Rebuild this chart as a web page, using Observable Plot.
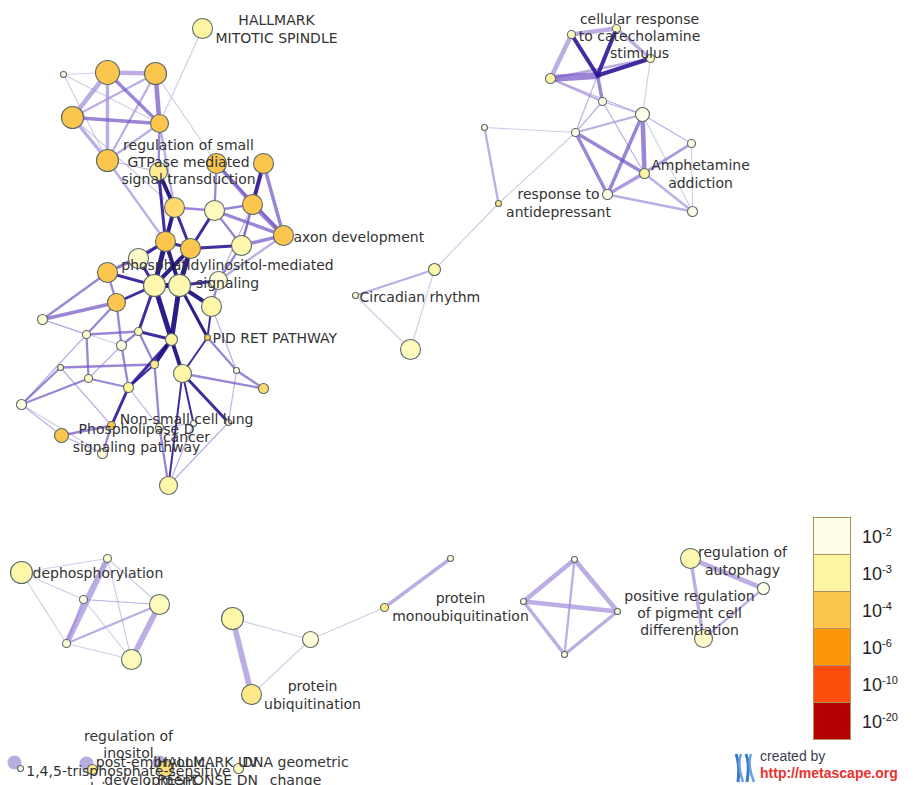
<!DOCTYPE html>
<html><head><meta charset="utf-8">
<script src="https://cdn.jsdelivr.net/npm/d3@7"></script>
<script src="https://cdn.jsdelivr.net/npm/@observablehq/plot@0.6"></script>
<style>
body{margin:0;background:#fff;}
#wrap{position:relative;width:917px;height:785px;overflow:hidden;font-family:"DejaVu Sans",sans-serif;}
#legend{position:absolute;left:813px;top:517px;}
.band{width:38px;border:1px solid #b09060;border-top:none;box-sizing:border-box;}
.band:first-child{border-top:1px solid #b09060;}
.lab{position:absolute;left:49px;font-family:"Liberation Sans",Arial,sans-serif;font-size:18px;color:#222;white-space:nowrap;}
.lab sup{font-size:11px;vertical-align:7px;}
#credit{position:absolute;left:733px;top:748px;font-family:"Liberation Sans",Arial,sans-serif;font-size:14px;line-height:17px;}
</style></head>
<body><div id="wrap"></div>
<script>
// ---- nodes: [id, x, y, radius, log10(p)] ----
const clusterA = [
 ["a0",202,28,10,-3],["a1",63,74,3,-2],["a2",107,72,12,-4],["a3",155,73,11,-4],
 ["a4",72,117,11,-4],["a5",159,123,9,-4],["a6",107,160,11,-4],["a7",158,171,9,-3.2],
 ["a8",216,163,10,-4],["a9",263,163,10,-4],["a10",174,207,10,-3.6],["a11",214,210,10,-2.6],
 ["a12",252,204,10,-4],["a13",283,235,10,-4],["a14",165,241,10,-4],["a15",190,248,10,-4],
 ["a16",241,245,10,-2.8],["a17",138,258,10,-2.4],["a18",107,272,10,-4],["a19",154,285,11,-2.8],
 ["a20",179,285,11,-2.8],["a21",218,280,9,-2.3],["a22",116,302,9,-4],["a23",211,306,10,-2.9],
 ["a24",42,319,5,-2.2],["a25",86,334,4,-2.3],["a26",138,331,4,-2.6],["a27",121,345,5,-2.1],
 ["a28",171,339,6,-3],["a29",207,337,3,-4],["a30",60,367,3,-2.5],["a31",154,364,4,-3.2],
 ["a32",182,373,9,-2.9],["a33",236,370,3,-2],["a34",88,378,4,-2.5],["a35",128,387,5,-3],
 ["a36",263,388,5,-3.6],["a37",21,404,5,-2.1],["a38",61,435,7,-4],["a39",111,425,4,-4],
 ["a40",159,427,4,-2.2],["a41",193,423,3,-2],["a42",228,422,3,-2],["a43",102,453,5,-2.2],
 ["a44",168,485,9,-2.9]
];
const clusterB = [
 ["b0",571,34,4,-2.6],["b1",616,28,4,-2.6],["b2",650,58,4,-2.6],["b3",550,78,5,-2.9],
 ["b4",597,75,0,-2],["b5",602,101,4,-2],["b6",642,114,7,-2],["b7",484,127,3,-2],
 ["b8",575,132,4,-2],["b9",691,143,4,-2],["b10",644,173,5,-3],["b11",607,194,5,-2],
 ["b12",692,211,5,-2],["b13",498,203,3,-3.3],["b14",434,269,6,-2.9],["b15",355,295,3,-2.3],
 ["b16",410,349,10,-2.6]
];
const clusterC = [
 ["c0",21,572,11,-2.9],["c1",107,558,4,-2.4],["c2",83,599,4,-2],["c3",159,604,10,-2.6],
 ["c4",66,643,4,-2.3],["c5",131,659,10,-2.6]
];
const clusterD = [
 ["d0",232,618,11,-2.9],["d1",310,639,8,-2.2],["d2",251,694,10,-3.3],["d3",384,607,4,-3.3],["d4",450,558,3,-2]
];
const clusterE = [["e0",574,559,3,-2],["e1",523,601,3,-2],["e2",617,611,3,-2],["e3",564,654,3,-2]];
const clusterF = [["f0",690,558,10,-2.8],["f1",763,588,6,-2],["f2",703,638,9,-2.4]];
const clusterG = [["g0",20,768,3,-2],["g1",92,769,5,-3.2],["g2",165,768,8,-3.5],["g3",238,768,5,-2.6]];
const selfLoops = ["g0","g1","g2"];

// ---- edges: [source, target, width, shade(0 light .. 4 dark)] ----
const edgesA = [
 ["a2","a3",4,1],["a2","a4",4,1],["a2","a5",3,2],["a2","a6",3,1],["a3","a4",2,1],["a3","a5",4,2],
 ["a3","a6",2,1],["a4","a5",3,2],["a4","a6",3,1],["a5","a6",2,1],["a1","a5",1,0],["a1","a2",1,0],
 ["a1","a6",1,0],["a0","a5",1,0],["a5","a7",2,2],["a6","a7",1,1],["a6","a14",2,1],["a5","a10",2,1],
 ["a4","a10",1,0],["a3","a8",1,0],
 ["a7","a10",4,4],["a10","a14",4,4],["a7","a14",3,3],["a8","a12",3,2],["a9","a12",4,3],["a8","a11",2,2],
 ["a9","a13",3,2],["a12","a13",4,2],["a11","a13",3,2],["a8","a13",2,2],["a9","a16",2,1],["a10","a11",2,2],
 ["a11","a12",2,2],["a10","a15",3,3],["a11","a15",3,3],["a14","a15",3,3],["a15","a16",3,3],["a11","a16",2,2],
 ["a12","a16",2,2],["a13","a16",3,2],["a14","a19",5,4],["a15","a20",5,4],["a14","a20",4,4],["a15","a19",4,4],
 ["a19","a20",5,4],["a17","a19",3,3],["a18","a19",3,3],["a17","a14",3,3],["a20","a21",3,3],["a20","a23",4,4],
 ["a19","a22",3,3],["a18","a22",2,2],["a16","a21",2,2],["a13","a21",2,1],["a12","a21",1,1],["a20","a28",5,4],
 ["a19","a28",5,4],["a28","a31",4,4],["a28","a32",4,4],["a20","a29",3,4],["a23","a29",2,3],["a22","a24",3,2],
 ["a18","a24",2,2],["a19","a26",3,3],["a26","a27",2,2],["a25","a26",2,2],["a24","a25",1,1],["a28","a35",3,3],
 ["a31","a35",2,3],["a32","a42",3,3],["a32","a44",2,3],["a31","a40",2,2],["a35","a39",3,3],["a39","a38",2,2],
 ["a25","a34",2,2],["a34","a37",2,2],["a37","a30",2,2],["a30","a31",2,2],["a37","a38",1,1],["a38","a43",1,1],
 ["a39","a43",2,2],["a40","a44",2,2],["a41","a44",1,1],["a33","a36",2,2],["a29","a33",2,2],["a32","a36",2,2],
 ["a33","a42",1,1],["a27","a34",1,1],["a24","a27",1,0],["a26","a31",2,2],["a35","a40",1,1],["a30","a39",1,1],
 ["a22","a25",2,2],["a23","a33",1,1],["a21","a23",2,2],["a42","a44",1,1],["a40","a41",1,1],["a34","a35",2,2],
 ["a25","a37",1,1],["a27","a35",2,2],["a29","a32",2,3],["a17","a18",2,2],["a18","a14",2,2],["a22","a27",2,2],
 ["a37","a43",1,0],["a28","a26",3,3],["a32","a41",2,3]
];
const edgesB = [
 ["b0","b1",4,1],["b0","b4",4,3],["b1","b4",4,3],["b2","b4",4,3],["b3","b4",6,2],["b1","b2",3,1],
 ["b0","b3",4,1],["b3","b2",2,1],["b4","b5",3,2],["b3","b5",2,1],["b2","b6",1,0],["b5","b6",1,1],
 ["b5","b8",1,1],["b4","b8",1,1],["b6","b8",2,1],["b8","b11",3,2],["b6","b10",4,2],["b6","b11",3,2],
 ["b6","b9",1,1],["b6","b12",1,0],["b9","b10",2,1],["b9","b11",2,1],["b10","b11",3,1],["b10","b12",2,1],
 ["b11","b12",2,1],["b8","b10",3,2],["b9","b12",1,0],["b5","b10",1,1],["b7","b8",1,0],["b7","b13",2,1],
 ["b8","b13",1,0],["b13","b14",1,0],["b14","b15",2,1],["b14","b16",1,0],["b15","b16",1,0],["b3","b6",1,1]
];
const edgesC = [
 ["c1","c4",5,1],["c1","c2",1,0],["c3","c5",5,1],["c0","c1",1,0],["c0","c2",1,0],["c0","c4",1,0],
 ["c1","c3",1,0],["c2","c3",1,1],["c2","c5",1,0],["c4","c5",1,0],["c4","c3",2,1],["c2","c4",2,1],["c1","c5",1,0]
];
const edgesD = [["d0","d2",5,1],["d0","d1",1,0],["d1","d2",1,0],["d1","d3",1,0],["d3","d4",3,1]];
const edgesE = [["e0","e1",4,1],["e0","e2",4,1],["e0","e3",2,1],["e1","e2",4,1],["e1","e3",3,1],["e2","e3",3,1]];
const edgesF = [["f0","f1",4,1],["f0","f2",3,1],["f1","f2",2,1]];

// ---- labels: [text, x, y(center), anchor] ----
const labels = [
 ["HALLMARK\nMITOTIC SPINDLE",276,28,"middle"],
 ["regulation of small\nGTPase mediated\nsignal transduction",188,161,"middle"],
 ["axon development",293,236,"start"],
 ["phosphatidylinositol-mediated\nsignaling",227,273,"middle"],
 ["PID RET PATHWAY",212,337,"start"],
 ["Non-small cell lung\ncancer",186,427,"middle"],
 ["Phospholipase D\nsignaling pathway",136,437,"middle"],
 ["cellular response\nto catecholamine\nstimulus",639,35,"middle"],
 ["Amphetamine\naddiction",700,173,"middle"],
 ["response to\nantidepressant",558,202,"middle"],
 ["Circadian rhythm",359,296,"start"],
 ["dephosphorylation",32,572,"start"],
 ["protein\nubiquitination",312,694,"middle"],
 ["protein\nmonoubiquitination",460,606,"middle"],
 ["positive regulation\nof pigment cell\ndifferentiation",689,612,"middle"],
 ["regulation of\nautophagy",742,560,"middle"],
 ["regulation of\ninositol\n1,4,5-trisphosphate-sensitive\ncalcium release",128,761,"middle"],
 ["post-embryonic\ndevelopment",150,770,"middle"],
 ["HALLMARK UV\nRESPONSE DN",207,770,"middle"],
 ["DNA geometric\nchange",295,770,"middle"]
];

// ---- legend ----
const legendLogP = [-2,-3,-4,-6,-10,-20];
const legendExp = ["-2","-3","-4","-6","-10","-20"];
const colorRange = ["#fffee6","#fef5a2","#fcc64e","#fb960a","#fc4d0c","#b30000"];
const shadeColors = ["#c6bfe0","#a28dda","#7356c6","#2e1596","#15067c"];

// ---- build ----
const nodes = [...clusterA,...clusterB,...clusterC,...clusterD,...clusterE,...clusterF,...clusterG]
  .map(([id,x,y,r,logp]) => ({id,x,y,r,logp}));
const byId = new Map(nodes.map(n => [n.id, n]));
const links = [...edgesA,...edgesB,...edgesC,...edgesD,...edgesE,...edgesF].map(([s,t,w,sh]) => ({
  x1: byId.get(s).x, y1: byId.get(s).y, x2: byId.get(t).x, y2: byId.get(t).y, w, sh
}));
const loops = nodes.filter(n => selfLoops.includes(n.id));
const lab = labels.map(([text,x,y,anchor]) => ({text,x,y,anchor}));

const linkMarks = shadeColors.map((c,i) => Plot.link(links.filter(l => l.sh === i), {
  x1:"x1", y1:"y1", x2:"x2", y2:"y2", stroke: c, strokeWidth: d => d.w * (i >= 3 ? 1.0 : 1.15),
  strokeOpacity: i === 0 ? 0.8 : (i >= 3 ? 0.9 : 0.72), strokeLinecap: "round"
}));

const chart = Plot.plot({
  width: 917, height: 785, margin: 0,
  x: {domain:[0,917], range:[0,917], axis:null},
  y: {domain:[0,785], range:[0,785], axis:null},
  r: {type:"identity"},
  color: {type:"linear", domain: legendLogP, range: colorRange},
  style: {fontFamily:"DejaVu Sans, sans-serif", background:"#fff"},
  marks: [
    Plot.dot(loops, {x:"x", y:"y", r:7, dx:-6, dy:-6, fill:"#a898d8", fillOpacity:0.8}),
    ...linkMarks,
    Plot.dot(nodes.filter(n => n.r > 0), {x:"x", y:"y", r:"r", fill:"logp", stroke:"#5a6868", strokeWidth:1.1}),
    Plot.text(lab.filter(d => d.anchor === "middle"), {x:"x", y:"y", text:"text", textAnchor:"middle",
      fontSize:14, fill:"#333", lineHeight:1.22}),
    Plot.text(lab.filter(d => d.anchor === "start"), {x:"x", y:"y", text:"text", textAnchor:"start",
      fontSize:14, fill:"#333", lineHeight:1.22})
  ]
});
const wrap = document.getElementById("wrap");
wrap.appendChild(chart);

// legend (HTML overlay)
const leg = document.createElement("div");
leg.id = "legend";
const bandH = 37;
legendLogP.forEach((v,i) => {
  const b = document.createElement("div");
  b.className = "band";
  b.style.height = (i === 0 ? bandH + 1 : bandH) + "px";
  b.style.background = chart.scale("color").apply(v);
  leg.appendChild(b);
  const t = document.createElement("div");
  t.className = "lab";
  t.style.top = (i * bandH + 9) + "px";
  t.innerHTML = "10<sup>" + legendExp[i] + "</sup>";
  leg.appendChild(t);
});
wrap.appendChild(leg);

// credit
const cr = document.createElement("div");
cr.id = "credit";
cr.innerHTML = `<svg width="24" height="34" style="position:absolute;left:0;top:2px">
<path d="M3 4 Q7 14 5 32" stroke="#3a78c8" stroke-width="3" fill="none"/>
<path d="M8 4 Q4 14 10 32" stroke="#6aa0e0" stroke-width="2.5" fill="none"/>
<path d="M13 4 Q17 14 14 32" stroke="#3a78c8" stroke-width="3" fill="none"/>
<path d="M18 4 Q14 14 21 32" stroke="#6aa0e0" stroke-width="2.5" fill="none"/></svg>
<div style="position:absolute;left:27px;top:0;color:#3c3c50;white-space:nowrap">created by</div>
<div style="position:absolute;left:27px;top:17px;color:#e8322e;white-space:nowrap;font-weight:bold">http://metascape.org</div>`;
wrap.appendChild(cr);
</script></body></html>
